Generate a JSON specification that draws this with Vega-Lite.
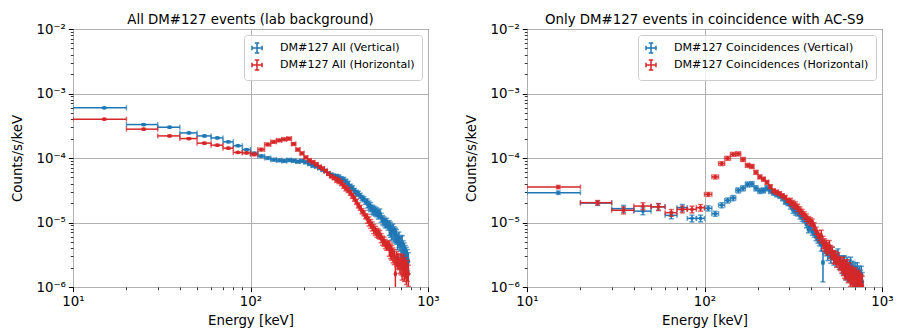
{
"$schema": "https://vega.github.io/schema/vega-lite/v6.json",
"padding": {"left": 10, "top": 12, "right": 3, "bottom": 2},
"background": "white",
"config": {
  "font": "DejaVu Sans",
  "view": {"stroke": "#000", "strokeWidth": 1},
  "axis": {"labelFont": "DejaVu Sans", "labelFontSize": 13.33, "labelColor": "#000", "titleFont": "DejaVu Sans", "titleFontSize": 13.33, "titleFontWeight": "normal", "titleColor": "#000", "tickColor": "#000", "domain": false, "gridColor": "#b0b0b0", "gridWidth": 1, "labelPadding": 3, "labelOverlap": false, "labelFlush": false},
  "title": {"font": "DejaVu Sans", "fontSize": 13.33, "fontWeight": "normal", "color": "#000", "anchor": "middle", "offset": -4},
  "legend": {"orient": "top-right", "offset": 6, "padding": 7, "fillColor": "rgba(255,255,255,0.8)", "strokeColor": "#cccccc", "cornerRadius": 3, "labelFont": "DejaVu Sans", "labelFontSize": 11.1, "labelColor": "#000", "labelLimit": 400, "rowPadding": 1, "labelOffset": 17, "symbolSize": 100, "symbolStrokeWidth": 1.5, "symbolType": "M-1,0L1,0M0,-1L0,1M-1,-0.45L-1,0.45M1,-0.45L1,0.45M-0.45,-1L0.45,-1M-0.45,1L0.45,1"}
},
"datasets": {"d": [
{"p":"A","s":"V","x":15,"a":10,"b":20,"y":6.0e-4,"e":1.5e-5},
{"p":"A","s":"V","x":25,"a":20,"b":30,"y":3.3e-4,"e":1.0e-5},
{"p":"A","s":"V","x":35,"a":30,"b":40,"y":3.0e-4,"e":9.0e-6},
{"p":"A","s":"V","x":45,"a":40,"b":50,"y":2.45e-4,"e":7.4e-6},
{"p":"A","s":"V","x":55,"a":50,"b":60,"y":2.2e-4,"e":6.6e-6},
{"p":"A","s":"V","x":65,"a":60,"b":70,"y":2.05e-4,"e":6.2e-6},
{"p":"A","s":"V","x":75,"a":70,"b":80,"y":1.78e-4,"e":5.3e-6},
{"p":"A","s":"V","x":85,"a":80,"b":90,"y":1.55e-4,"e":4.7e-6},
{"p":"A","s":"V","x":95,"a":90,"b":100,"y":1.35e-4,"e":4.1e-6},
{"p":"A","s":"V","x":105,"a":100,"b":110,"y":1.18e-4,"e":5.9e-6},
{"p":"A","s":"V","x":115,"a":110,"b":120,"y":1.07e-4,"e":5.4e-6},
{"p":"A","s":"V","x":125,"a":120,"b":130,"y":1.0e-4,"e":5.0e-6},
{"p":"A","s":"V","x":135,"a":130,"b":140,"y":9.4e-5,"e":4.7e-6},
{"p":"A","s":"V","x":145,"a":140,"b":150,"y":9.2e-5,"e":4.6e-6},
{"p":"A","s":"V","x":155,"a":150,"b":160,"y":9.0e-5,"e":4.5e-6},
{"p":"A","s":"V","x":165,"a":160,"b":170,"y":9.3e-5,"e":4.7e-6},
{"p":"A","s":"V","x":175,"a":170,"b":180,"y":9.1e-5,"e":4.6e-6},
{"p":"A","s":"V","x":185,"a":180,"b":190,"y":8.8e-5,"e":4.4e-6},
{"p":"A","s":"V","x":195,"a":190,"b":200,"y":9.0e-5,"e":4.5e-6},
{"p":"A","s":"V","x":205,"a":200,"b":210,"y":8.6e-5,"e":4.3e-6},
{"p":"A","s":"V","x":215,"a":210,"b":220,"y":8.1e-5,"e":4.1e-6},
{"p":"A","s":"V","x":225,"a":220,"b":230,"y":7.6e-5,"e":3.8e-6},
{"p":"A","s":"V","x":235,"a":230,"b":240,"y":7.4e-5,"e":3.7e-6},
{"p":"A","s":"V","x":245,"a":240,"b":250,"y":7.0e-5,"e":3.5e-6},
{"p":"A","s":"V","x":255,"a":250,"b":260,"y":6.6e-5,"e":3.3e-6},
{"p":"A","s":"V","x":265,"a":260,"b":270,"y":6.3e-5,"e":3.2e-6},
{"p":"A","s":"V","x":275,"a":270,"b":280,"y":5.8e-5,"e":2.9e-6},
{"p":"A","s":"V","x":285,"a":280,"b":290,"y":5.5e-5,"e":2.8e-6},
{"p":"A","s":"V","x":295,"a":290,"b":300,"y":5.3e-5,"e":2.7e-6},
{"p":"A","s":"V","x":305,"a":300,"b":310,"y":5.1e-5,"e":4.6e-6},
{"p":"A","s":"V","x":315,"a":310,"b":320,"y":5.0e-5,"e":4.5e-6},
{"p":"A","s":"V","x":325,"a":320,"b":330,"y":4.7e-5,"e":4.2e-6},
{"p":"A","s":"V","x":335,"a":330,"b":340,"y":4.6e-5,"e":4.1e-6},
{"p":"A","s":"V","x":345,"a":340,"b":350,"y":4.3e-5,"e":3.9e-6},
{"p":"A","s":"V","x":355,"a":350,"b":360,"y":4.0e-5,"e":3.6e-6},
{"p":"A","s":"V","x":365,"a":360,"b":370,"y":3.6e-5,"e":3.2e-6},
{"p":"A","s":"V","x":375,"a":370,"b":380,"y":3.4e-5,"e":3.1e-6},
{"p":"A","s":"V","x":385,"a":380,"b":390,"y":3.1e-5,"e":2.8e-6},
{"p":"A","s":"V","x":395,"a":390,"b":400,"y":2.9e-5,"e":2.6e-6},
{"p":"A","s":"V","x":405,"a":400,"b":410,"y":2.8e-5,"e":2.5e-6},
{"p":"A","s":"V","x":415,"a":410,"b":420,"y":2.6e-5,"e":2.3e-6},
{"p":"A","s":"V","x":425,"a":420,"b":430,"y":2.4e-5,"e":2.2e-6},
{"p":"A","s":"V","x":435,"a":430,"b":440,"y":2.3e-5,"e":2.1e-6},
{"p":"A","s":"V","x":445,"a":440,"b":450,"y":2.1e-5,"e":1.9e-6},
{"p":"A","s":"V","x":455,"a":450,"b":460,"y":2.0e-5,"e":3.2e-6},
{"p":"A","s":"V","x":465,"a":460,"b":470,"y":1.85e-5,"e":3.0e-6},
{"p":"A","s":"V","x":475,"a":470,"b":480,"y":1.75e-5,"e":2.8e-6},
{"p":"A","s":"V","x":485,"a":480,"b":490,"y":1.6e-5,"e":2.6e-6},
{"p":"A","s":"V","x":495,"a":490,"b":500,"y":1.55e-5,"e":2.5e-6},
{"p":"A","s":"V","x":505,"a":500,"b":510,"y":1.5e-5,"e":2.4e-6},
{"p":"A","s":"V","x":515,"a":510,"b":520,"y":1.45e-5,"e":2.3e-6},
{"p":"A","s":"V","x":525,"a":520,"b":530,"y":1.35e-5,"e":2.2e-6},
{"p":"A","s":"V","x":535,"a":530,"b":540,"y":1.4e-5,"e":2.2e-6},
{"p":"A","s":"V","x":545,"a":540,"b":550,"y":1.2e-5,"e":1.9e-6},
{"p":"A","s":"V","x":555,"a":550,"b":560,"y":1.1e-5,"e":1.8e-6},
{"p":"A","s":"V","x":565,"a":560,"b":570,"y":1.05e-5,"e":1.7e-6},
{"p":"A","s":"V","x":575,"a":570,"b":580,"y":9.8e-6,"e":1.6e-6},
{"p":"A","s":"V","x":585,"a":580,"b":590,"y":1.0e-5,"e":1.6e-6},
{"p":"A","s":"V","x":595,"a":590,"b":600,"y":9.0e-6,"e":1.4e-6},
{"p":"A","s":"V","x":605,"a":600,"b":610,"y":8.5e-6,"e":2.2e-6},
{"p":"A","s":"V","x":615,"a":610,"b":620,"y":8.0e-6,"e":2.1e-6},
{"p":"A","s":"V","x":625,"a":620,"b":630,"y":7.2e-6,"e":1.9e-6},
{"p":"A","s":"V","x":635,"a":630,"b":640,"y":7.5e-6,"e":2.0e-6},
{"p":"A","s":"V","x":645,"a":640,"b":650,"y":6.8e-6,"e":1.8e-6},
{"p":"A","s":"V","x":655,"a":650,"b":660,"y":6.5e-6,"e":1.7e-6},
{"p":"A","s":"V","x":665,"a":660,"b":670,"y":6.2e-6,"e":1.6e-6},
{"p":"A","s":"V","x":675,"a":670,"b":680,"y":5.2e-6,"e":1.4e-6},
{"p":"A","s":"V","x":685,"a":680,"b":690,"y":5.6e-6,"e":1.5e-6},
{"p":"A","s":"V","x":695,"a":690,"b":700,"y":4.8e-6,"e":1.2e-6},
{"p":"A","s":"V","x":705,"a":700,"b":710,"y":4.5e-6,"e":1.6e-6},
{"p":"A","s":"V","x":715,"a":710,"b":720,"y":4.6e-6,"e":1.7e-6},
{"p":"A","s":"V","x":725,"a":720,"b":730,"y":3.8e-6,"e":1.4e-6},
{"p":"A","s":"V","x":735,"a":730,"b":740,"y":3.5e-6,"e":1.3e-6},
{"p":"A","s":"V","x":745,"a":740,"b":750,"y":3.2e-6,"e":1.2e-6},
{"p":"A","s":"V","x":755,"a":750,"b":760,"y":3.0e-6,"e":1.1e-6},
{"p":"A","s":"V","x":765,"a":760,"b":770,"y":2.8e-6,"e":1.0e-6},
{"p":"A","s":"V","x":775,"a":770,"b":780,"y":2.5e-6,"e":9.0e-7},
{"p":"A","s":"H","x":15,"a":10,"b":20,"y":4.0e-4,"e":1.0e-5},
{"p":"A","s":"H","x":25,"a":20,"b":30,"y":2.8e-4,"e":8.4e-6},
{"p":"A","s":"H","x":35,"a":30,"b":40,"y":2.2e-4,"e":6.6e-6},
{"p":"A","s":"H","x":45,"a":40,"b":50,"y":2.0e-4,"e":6.0e-6},
{"p":"A","s":"H","x":55,"a":50,"b":60,"y":1.7e-4,"e":5.1e-6},
{"p":"A","s":"H","x":65,"a":60,"b":70,"y":1.58e-4,"e":4.7e-6},
{"p":"A","s":"H","x":75,"a":70,"b":80,"y":1.42e-4,"e":4.3e-6},
{"p":"A","s":"H","x":85,"a":80,"b":90,"y":1.22e-4,"e":3.7e-6},
{"p":"A","s":"H","x":95,"a":90,"b":100,"y":1.2e-4,"e":3.6e-6},
{"p":"A","s":"H","x":105,"a":100,"b":110,"y":1.14e-4,"e":5.7e-6},
{"p":"A","s":"H","x":115,"a":110,"b":120,"y":1.35e-4,"e":6.8e-6},
{"p":"A","s":"H","x":125,"a":120,"b":130,"y":1.62e-4,"e":8.1e-6},
{"p":"A","s":"H","x":135,"a":130,"b":140,"y":1.78e-4,"e":8.9e-6},
{"p":"A","s":"H","x":145,"a":140,"b":150,"y":1.88e-4,"e":9.4e-6},
{"p":"A","s":"H","x":155,"a":150,"b":160,"y":1.95e-4,"e":9.8e-6},
{"p":"A","s":"H","x":165,"a":160,"b":170,"y":2.0e-4,"e":1.0e-5},
{"p":"A","s":"H","x":175,"a":170,"b":180,"y":1.65e-4,"e":8.3e-6},
{"p":"A","s":"H","x":185,"a":180,"b":190,"y":1.35e-4,"e":6.8e-6},
{"p":"A","s":"H","x":195,"a":190,"b":200,"y":1.18e-4,"e":5.9e-6},
{"p":"A","s":"H","x":205,"a":200,"b":210,"y":1.02e-4,"e":5.1e-6},
{"p":"A","s":"H","x":215,"a":210,"b":220,"y":9.2e-5,"e":4.6e-6},
{"p":"A","s":"H","x":225,"a":220,"b":230,"y":8.6e-5,"e":4.3e-6},
{"p":"A","s":"H","x":235,"a":230,"b":240,"y":8.0e-5,"e":4.0e-6},
{"p":"A","s":"H","x":245,"a":240,"b":250,"y":7.3e-5,"e":3.7e-6},
{"p":"A","s":"H","x":255,"a":250,"b":260,"y":6.9e-5,"e":3.5e-6},
{"p":"A","s":"H","x":265,"a":260,"b":270,"y":6.3e-5,"e":3.2e-6},
{"p":"A","s":"H","x":275,"a":270,"b":280,"y":5.7e-5,"e":2.9e-6},
{"p":"A","s":"H","x":285,"a":280,"b":290,"y":5.2e-5,"e":2.6e-6},
{"p":"A","s":"H","x":295,"a":290,"b":300,"y":4.9e-5,"e":2.5e-6},
{"p":"A","s":"H","x":305,"a":300,"b":310,"y":4.6e-5,"e":4.1e-6},
{"p":"A","s":"H","x":315,"a":310,"b":320,"y":4.4e-5,"e":3.9e-6},
{"p":"A","s":"H","x":325,"a":320,"b":330,"y":4.1e-5,"e":3.7e-6},
{"p":"A","s":"H","x":335,"a":330,"b":340,"y":3.7e-5,"e":3.3e-6},
{"p":"A","s":"H","x":345,"a":340,"b":350,"y":3.4e-5,"e":3.1e-6},
{"p":"A","s":"H","x":355,"a":350,"b":360,"y":3.2e-5,"e":2.9e-6},
{"p":"A","s":"H","x":365,"a":360,"b":370,"y":2.9e-5,"e":2.6e-6},
{"p":"A","s":"H","x":375,"a":370,"b":380,"y":2.6e-5,"e":2.3e-6},
{"p":"A","s":"H","x":385,"a":380,"b":390,"y":2.35e-5,"e":2.1e-6},
{"p":"A","s":"H","x":395,"a":390,"b":400,"y":2.1e-5,"e":1.9e-6},
{"p":"A","s":"H","x":405,"a":400,"b":410,"y":1.85e-5,"e":1.7e-6},
{"p":"A","s":"H","x":415,"a":410,"b":420,"y":1.7e-5,"e":1.5e-6},
{"p":"A","s":"H","x":425,"a":420,"b":430,"y":1.5e-5,"e":1.4e-6},
{"p":"A","s":"H","x":435,"a":430,"b":440,"y":1.4e-5,"e":1.3e-6},
{"p":"A","s":"H","x":445,"a":440,"b":450,"y":1.25e-5,"e":1.1e-6},
{"p":"A","s":"H","x":455,"a":450,"b":460,"y":1.15e-5,"e":1.8e-6},
{"p":"A","s":"H","x":465,"a":460,"b":470,"y":1.05e-5,"e":1.7e-6},
{"p":"A","s":"H","x":475,"a":470,"b":480,"y":9.6e-6,"e":1.5e-6},
{"p":"A","s":"H","x":485,"a":480,"b":490,"y":8.8e-6,"e":1.4e-6},
{"p":"A","s":"H","x":495,"a":490,"b":500,"y":8.0e-6,"e":1.3e-6},
{"p":"A","s":"H","x":505,"a":500,"b":510,"y":7.5e-6,"e":1.2e-6},
{"p":"A","s":"H","x":515,"a":510,"b":520,"y":7.0e-6,"e":1.1e-6},
{"p":"A","s":"H","x":525,"a":520,"b":530,"y":6.8e-6,"e":1.1e-6},
{"p":"A","s":"H","x":535,"a":530,"b":540,"y":6.5e-6,"e":1.0e-6},
{"p":"A","s":"H","x":545,"a":540,"b":550,"y":5.8e-6,"e":9.3e-7},
{"p":"A","s":"H","x":555,"a":550,"b":560,"y":5.3e-6,"e":8.5e-7},
{"p":"A","s":"H","x":565,"a":560,"b":570,"y":5.1e-6,"e":8.2e-7},
{"p":"A","s":"H","x":575,"a":570,"b":580,"y":4.7e-6,"e":7.5e-7},
{"p":"A","s":"H","x":585,"a":580,"b":590,"y":4.4e-6,"e":7.0e-7},
{"p":"A","s":"H","x":595,"a":590,"b":600,"y":4.5e-6,"e":7.2e-7},
{"p":"A","s":"H","x":605,"a":600,"b":610,"y":4.0e-6,"e":1.0e-6},
{"p":"A","s":"H","x":615,"a":610,"b":620,"y":3.7e-6,"e":9.6e-7},
{"p":"A","s":"H","x":625,"a":620,"b":630,"y":3.5e-6,"e":9.1e-7},
{"p":"A","s":"H","x":635,"a":630,"b":640,"y":3.2e-6,"e":8.3e-7},
{"p":"A","s":"H","x":645,"a":640,"b":650,"y":3.0e-6,"e":7.8e-7},
{"p":"A","s":"H","x":655,"a":650,"b":660,"y":1.6e-6,"e":9.6e-7},
{"p":"A","s":"H","x":665,"a":660,"b":670,"y":2.8e-6,"e":7.3e-7},
{"p":"A","s":"H","x":675,"a":670,"b":680,"y":2.6e-6,"e":6.8e-7},
{"p":"A","s":"H","x":685,"a":680,"b":690,"y":2.5e-6,"e":6.5e-7},
{"p":"A","s":"H","x":695,"a":690,"b":700,"y":2.2e-6,"e":5.7e-7},
{"p":"A","s":"H","x":705,"a":700,"b":710,"y":2.4e-6,"e":8.6e-7},
{"p":"A","s":"H","x":715,"a":710,"b":720,"y":2.0e-6,"e":7.2e-7},
{"p":"A","s":"H","x":725,"a":720,"b":730,"y":2.3e-6,"e":8.3e-7},
{"p":"A","s":"H","x":735,"a":730,"b":740,"y":1.9e-6,"e":6.8e-7},
{"p":"A","s":"H","x":745,"a":740,"b":750,"y":2.1e-6,"e":7.6e-7},
{"p":"A","s":"H","x":755,"a":750,"b":760,"y":1.7e-6,"e":6.1e-7},
{"p":"A","s":"H","x":765,"a":760,"b":770,"y":1.9e-6,"e":6.8e-7},
{"p":"A","s":"H","x":775,"a":770,"b":780,"y":1.6e-6,"e":5.8e-7},
{"p":"B","s":"V","x":15,"a":10,"b":20,"y":2.9e-5,"e":1.7e-6},
{"p":"B","s":"V","x":25,"a":20,"b":30,"y":2.0e-5,"e":1.6e-6},
{"p":"B","s":"V","x":35,"a":30,"b":40,"y":1.64e-5,"e":2.0e-6},
{"p":"B","s":"V","x":45,"a":40,"b":50,"y":1.5e-5,"e":1.8e-6},
{"p":"B","s":"V","x":55,"a":50,"b":60,"y":1.75e-5,"e":2.1e-6},
{"p":"B","s":"V","x":65,"a":60,"b":70,"y":1.29e-5,"e":1.5e-6},
{"p":"B","s":"V","x":75,"a":70,"b":80,"y":1.7e-5,"e":2.0e-6},
{"p":"B","s":"V","x":85,"a":80,"b":90,"y":1.16e-5,"e":1.4e-6},
{"p":"B","s":"V","x":95,"a":90,"b":100,"y":1.16e-5,"e":1.4e-6},
{"p":"B","s":"V","x":105,"a":100,"b":110,"y":1.66e-5,"e":1.5e-6},
{"p":"B","s":"V","x":115,"a":110,"b":120,"y":1.37e-5,"e":1.2e-6},
{"p":"B","s":"V","x":125,"a":120,"b":130,"y":1.86e-5,"e":1.7e-6},
{"p":"B","s":"V","x":135,"a":130,"b":140,"y":2.2e-5,"e":2.0e-6},
{"p":"B","s":"V","x":145,"a":140,"b":150,"y":2.4e-5,"e":2.2e-6},
{"p":"B","s":"V","x":155,"a":150,"b":160,"y":3.15e-5,"e":2.8e-6},
{"p":"B","s":"V","x":165,"a":160,"b":170,"y":3.4e-5,"e":3.1e-6},
{"p":"B","s":"V","x":175,"a":170,"b":180,"y":3.9e-5,"e":3.5e-6},
{"p":"B","s":"V","x":185,"a":180,"b":190,"y":3.95e-5,"e":3.6e-6},
{"p":"B","s":"V","x":195,"a":190,"b":200,"y":3.4e-5,"e":3.1e-6},
{"p":"B","s":"V","x":205,"a":200,"b":210,"y":3.1e-5,"e":2.8e-6},
{"p":"B","s":"V","x":215,"a":210,"b":220,"y":3.15e-5,"e":2.8e-6},
{"p":"B","s":"V","x":225,"a":220,"b":230,"y":3.4e-5,"e":3.1e-6},
{"p":"B","s":"V","x":235,"a":230,"b":240,"y":3.1e-5,"e":2.8e-6},
{"p":"B","s":"V","x":245,"a":240,"b":250,"y":2.9e-5,"e":2.6e-6},
{"p":"B","s":"V","x":255,"a":250,"b":260,"y":2.75e-5,"e":2.5e-6},
{"p":"B","s":"V","x":265,"a":260,"b":270,"y":2.6e-5,"e":2.3e-6},
{"p":"B","s":"V","x":275,"a":270,"b":280,"y":2.4e-5,"e":2.2e-6},
{"p":"B","s":"V","x":285,"a":280,"b":290,"y":2.1e-5,"e":1.9e-6},
{"p":"B","s":"V","x":295,"a":290,"b":300,"y":2.0e-5,"e":1.8e-6},
{"p":"B","s":"V","x":305,"a":300,"b":310,"y":1.85e-5,"e":2.4e-6},
{"p":"B","s":"V","x":315,"a":310,"b":320,"y":1.6e-5,"e":2.1e-6},
{"p":"B","s":"V","x":325,"a":320,"b":330,"y":1.5e-5,"e":2.0e-6},
{"p":"B","s":"V","x":335,"a":330,"b":340,"y":1.45e-5,"e":1.9e-6},
{"p":"B","s":"V","x":345,"a":340,"b":350,"y":1.3e-5,"e":1.7e-6},
{"p":"B","s":"V","x":355,"a":350,"b":360,"y":1.2e-5,"e":1.6e-6},
{"p":"B","s":"V","x":365,"a":360,"b":370,"y":1.15e-5,"e":1.5e-6},
{"p":"B","s":"V","x":375,"a":370,"b":380,"y":9.5e-6,"e":1.2e-6},
{"p":"B","s":"V","x":385,"a":380,"b":390,"y":7.9e-6,"e":1.0e-6},
{"p":"B","s":"V","x":395,"a":390,"b":400,"y":8.5e-6,"e":1.1e-6},
{"p":"B","s":"V","x":405,"a":400,"b":410,"y":7.3e-6,"e":9.5e-7},
{"p":"B","s":"V","x":415,"a":410,"b":420,"y":6.8e-6,"e":8.8e-7},
{"p":"B","s":"V","x":425,"a":420,"b":430,"y":6.0e-6,"e":7.8e-7},
{"p":"B","s":"V","x":435,"a":430,"b":440,"y":5.5e-6,"e":7.2e-7},
{"p":"B","s":"V","x":445,"a":440,"b":450,"y":5.0e-6,"e":6.5e-7},
{"p":"B","s":"V","x":455,"a":450,"b":460,"y":4.6e-6,"e":1.0e-6},
{"p":"B","s":"V","x":465,"a":460,"b":470,"y":2.4e-6,"e":1.2e-6},
{"p":"B","s":"V","x":475,"a":470,"b":480,"y":4.2e-6,"e":9.2e-7},
{"p":"B","s":"V","x":485,"a":480,"b":490,"y":3.9e-6,"e":8.6e-7},
{"p":"B","s":"V","x":495,"a":490,"b":500,"y":3.3e-6,"e":7.3e-7},
{"p":"B","s":"V","x":505,"a":500,"b":510,"y":3.6e-6,"e":7.9e-7},
{"p":"B","s":"V","x":515,"a":510,"b":520,"y":3.0e-6,"e":6.6e-7},
{"p":"B","s":"V","x":525,"a":520,"b":530,"y":3.4e-6,"e":7.5e-7},
{"p":"B","s":"V","x":535,"a":530,"b":540,"y":2.8e-6,"e":6.2e-7},
{"p":"B","s":"V","x":545,"a":540,"b":550,"y":3.0e-6,"e":6.6e-7},
{"p":"B","s":"V","x":555,"a":550,"b":560,"y":2.6e-6,"e":5.7e-7},
{"p":"B","s":"V","x":565,"a":560,"b":570,"y":3.2e-6,"e":7.0e-7},
{"p":"B","s":"V","x":575,"a":570,"b":580,"y":2.4e-6,"e":5.3e-7},
{"p":"B","s":"V","x":585,"a":580,"b":590,"y":2.5e-6,"e":5.5e-7},
{"p":"B","s":"V","x":595,"a":590,"b":600,"y":2.1e-6,"e":4.6e-7},
{"p":"B","s":"V","x":605,"a":600,"b":610,"y":2.3e-6,"e":7.4e-7},
{"p":"B","s":"V","x":615,"a":610,"b":620,"y":2.3e-6,"e":7.4e-7},
{"p":"B","s":"V","x":625,"a":620,"b":630,"y":1.9e-6,"e":6.1e-7},
{"p":"B","s":"V","x":635,"a":630,"b":640,"y":2.2e-6,"e":7.0e-7},
{"p":"B","s":"V","x":645,"a":640,"b":650,"y":1.8e-6,"e":5.8e-7},
{"p":"B","s":"V","x":655,"a":650,"b":660,"y":2.0e-6,"e":6.4e-7},
{"p":"B","s":"V","x":665,"a":660,"b":670,"y":2.2e-6,"e":7.0e-7},
{"p":"B","s":"V","x":675,"a":670,"b":680,"y":1.7e-6,"e":5.4e-7},
{"p":"B","s":"V","x":685,"a":680,"b":690,"y":1.9e-6,"e":6.1e-7},
{"p":"B","s":"V","x":695,"a":690,"b":700,"y":1.6e-6,"e":5.1e-7},
{"p":"B","s":"V","x":705,"a":700,"b":710,"y":1.7e-6,"e":6.8e-7},
{"p":"B","s":"V","x":715,"a":710,"b":720,"y":1.5e-6,"e":6.0e-7},
{"p":"B","s":"V","x":725,"a":720,"b":730,"y":1.7e-6,"e":6.8e-7},
{"p":"B","s":"V","x":735,"a":730,"b":740,"y":1.4e-6,"e":5.6e-7},
{"p":"B","s":"V","x":745,"a":740,"b":750,"y":1.5e-6,"e":6.0e-7},
{"p":"B","s":"V","x":755,"a":750,"b":760,"y":1.3e-6,"e":5.2e-7},
{"p":"B","s":"V","x":765,"a":760,"b":770,"y":1.5e-6,"e":6.0e-7},
{"p":"B","s":"V","x":775,"a":770,"b":780,"y":1.2e-6,"e":4.8e-7},
{"p":"B","s":"H","x":15,"a":10,"b":20,"y":3.55e-5,"e":2.1e-6},
{"p":"B","s":"H","x":25,"a":20,"b":30,"y":2.03e-5,"e":1.6e-6},
{"p":"B","s":"H","x":35,"a":30,"b":40,"y":1.55e-5,"e":1.9e-6},
{"p":"B","s":"H","x":45,"a":40,"b":50,"y":1.8e-5,"e":2.2e-6},
{"p":"B","s":"H","x":55,"a":50,"b":60,"y":1.75e-5,"e":2.1e-6},
{"p":"B","s":"H","x":65,"a":60,"b":70,"y":1.42e-5,"e":1.7e-6},
{"p":"B","s":"H","x":75,"a":70,"b":80,"y":1.6e-5,"e":1.9e-6},
{"p":"B","s":"H","x":85,"a":80,"b":90,"y":1.6e-5,"e":1.9e-6},
{"p":"B","s":"H","x":95,"a":90,"b":100,"y":1.7e-5,"e":2.0e-6},
{"p":"B","s":"H","x":105,"a":100,"b":110,"y":2.73e-5,"e":1.9e-6},
{"p":"B","s":"H","x":115,"a":110,"b":120,"y":5.1e-5,"e":3.6e-6},
{"p":"B","s":"H","x":125,"a":120,"b":130,"y":8.2e-5,"e":5.7e-6},
{"p":"B","s":"H","x":135,"a":130,"b":140,"y":9.9e-5,"e":6.9e-6},
{"p":"B","s":"H","x":145,"a":140,"b":150,"y":1.14e-4,"e":8.0e-6},
{"p":"B","s":"H","x":155,"a":150,"b":160,"y":1.16e-4,"e":8.1e-6},
{"p":"B","s":"H","x":165,"a":160,"b":170,"y":9.5e-5,"e":6.7e-6},
{"p":"B","s":"H","x":175,"a":170,"b":180,"y":7.7e-5,"e":5.4e-6},
{"p":"B","s":"H","x":185,"a":180,"b":190,"y":7.4e-5,"e":5.2e-6},
{"p":"B","s":"H","x":195,"a":190,"b":200,"y":6.0e-5,"e":4.2e-6},
{"p":"B","s":"H","x":205,"a":200,"b":210,"y":5.1e-5,"e":3.6e-6},
{"p":"B","s":"H","x":215,"a":210,"b":220,"y":4.7e-5,"e":3.3e-6},
{"p":"B","s":"H","x":225,"a":220,"b":230,"y":4.2e-5,"e":2.9e-6},
{"p":"B","s":"H","x":235,"a":230,"b":240,"y":3.6e-5,"e":2.5e-6},
{"p":"B","s":"H","x":245,"a":240,"b":250,"y":3.1e-5,"e":2.2e-6},
{"p":"B","s":"H","x":255,"a":250,"b":260,"y":2.95e-5,"e":2.1e-6},
{"p":"B","s":"H","x":265,"a":260,"b":270,"y":2.8e-5,"e":2.0e-6},
{"p":"B","s":"H","x":275,"a":270,"b":280,"y":2.6e-5,"e":1.8e-6},
{"p":"B","s":"H","x":285,"a":280,"b":290,"y":2.45e-5,"e":1.7e-6},
{"p":"B","s":"H","x":295,"a":290,"b":300,"y":2.2e-5,"e":1.5e-6},
{"p":"B","s":"H","x":305,"a":300,"b":310,"y":2.1e-5,"e":2.7e-6},
{"p":"B","s":"H","x":315,"a":310,"b":320,"y":1.95e-5,"e":2.5e-6},
{"p":"B","s":"H","x":325,"a":320,"b":330,"y":1.85e-5,"e":2.4e-6},
{"p":"B","s":"H","x":335,"a":330,"b":340,"y":1.7e-5,"e":2.2e-6},
{"p":"B","s":"H","x":345,"a":340,"b":350,"y":1.55e-5,"e":2.0e-6},
{"p":"B","s":"H","x":355,"a":350,"b":360,"y":1.42e-5,"e":1.8e-6},
{"p":"B","s":"H","x":365,"a":360,"b":370,"y":1.3e-5,"e":1.7e-6},
{"p":"B","s":"H","x":375,"a":370,"b":380,"y":1.2e-5,"e":1.6e-6},
{"p":"B","s":"H","x":385,"a":380,"b":390,"y":1.1e-5,"e":1.4e-6},
{"p":"B","s":"H","x":395,"a":390,"b":400,"y":1.05e-5,"e":1.4e-6},
{"p":"B","s":"H","x":405,"a":400,"b":410,"y":1.0e-5,"e":1.3e-6},
{"p":"B","s":"H","x":415,"a":410,"b":420,"y":8.8e-6,"e":1.1e-6},
{"p":"B","s":"H","x":425,"a":420,"b":430,"y":7.5e-6,"e":9.8e-7},
{"p":"B","s":"H","x":435,"a":430,"b":440,"y":6.6e-6,"e":8.6e-7},
{"p":"B","s":"H","x":445,"a":440,"b":450,"y":6.0e-6,"e":7.8e-7},
{"p":"B","s":"H","x":455,"a":450,"b":460,"y":6.2e-6,"e":1.4e-6},
{"p":"B","s":"H","x":465,"a":460,"b":470,"y":5.0e-6,"e":1.1e-6},
{"p":"B","s":"H","x":475,"a":470,"b":480,"y":4.6e-6,"e":1.0e-6},
{"p":"B","s":"H","x":485,"a":480,"b":490,"y":4.3e-6,"e":9.5e-7},
{"p":"B","s":"H","x":495,"a":490,"b":500,"y":4.0e-6,"e":8.8e-7},
{"p":"B","s":"H","x":505,"a":500,"b":510,"y":4.3e-6,"e":9.5e-7},
{"p":"B","s":"H","x":515,"a":510,"b":520,"y":3.6e-6,"e":7.9e-7},
{"p":"B","s":"H","x":525,"a":520,"b":530,"y":3.4e-6,"e":7.5e-7},
{"p":"B","s":"H","x":535,"a":530,"b":540,"y":3.0e-6,"e":6.6e-7},
{"p":"B","s":"H","x":545,"a":540,"b":550,"y":2.9e-6,"e":6.4e-7},
{"p":"B","s":"H","x":555,"a":550,"b":560,"y":2.6e-6,"e":5.7e-7},
{"p":"B","s":"H","x":565,"a":560,"b":570,"y":2.8e-6,"e":6.2e-7},
{"p":"B","s":"H","x":575,"a":570,"b":580,"y":2.4e-6,"e":5.3e-7},
{"p":"B","s":"H","x":585,"a":580,"b":590,"y":2.3e-6,"e":5.1e-7},
{"p":"B","s":"H","x":595,"a":590,"b":600,"y":2.1e-6,"e":4.6e-7},
{"p":"B","s":"H","x":605,"a":600,"b":610,"y":2.2e-6,"e":7.0e-7},
{"p":"B","s":"H","x":615,"a":610,"b":620,"y":2.0e-6,"e":6.4e-7},
{"p":"B","s":"H","x":625,"a":620,"b":630,"y":1.9e-6,"e":6.1e-7},
{"p":"B","s":"H","x":635,"a":630,"b":640,"y":2.0e-6,"e":6.4e-7},
{"p":"B","s":"H","x":645,"a":640,"b":650,"y":1.7e-6,"e":5.4e-7},
{"p":"B","s":"H","x":655,"a":650,"b":660,"y":1.8e-6,"e":5.8e-7},
{"p":"B","s":"H","x":665,"a":660,"b":670,"y":1.5e-6,"e":4.8e-7},
{"p":"B","s":"H","x":675,"a":670,"b":680,"y":1.6e-6,"e":5.1e-7},
{"p":"B","s":"H","x":685,"a":680,"b":690,"y":1.4e-6,"e":4.5e-7},
{"p":"B","s":"H","x":695,"a":690,"b":700,"y":1.5e-6,"e":4.8e-7},
{"p":"B","s":"H","x":705,"a":700,"b":710,"y":1.4e-6,"e":5.6e-7},
{"p":"B","s":"H","x":715,"a":710,"b":720,"y":1.3e-6,"e":5.2e-7},
{"p":"B","s":"H","x":725,"a":720,"b":730,"y":1.25e-6,"e":5.0e-7},
{"p":"B","s":"H","x":735,"a":730,"b":740,"y":1.3e-6,"e":5.2e-7},
{"p":"B","s":"H","x":745,"a":740,"b":750,"y":1.2e-6,"e":4.8e-7},
{"p":"B","s":"H","x":755,"a":750,"b":760,"y":1.15e-6,"e":4.6e-7},
{"p":"B","s":"H","x":765,"a":760,"b":770,"y":1.1e-6,"e":4.4e-7},
{"p":"B","s":"H","x":775,"a":770,"b":780,"y":1.05e-6,"e":4.2e-7}
]},
"spacing": 99,
"bounds": "flush",
"resolve": {"scale": {"color": "independent"}, "legend": {"color": "independent"}},
"hconcat": [
{
  "title": {"text": "All DM#127 events (lab background)"},
  "width": 355, "height": 258,
  "data": {"name": "d"},
  "transform": [{"filter": "datum.p=='A'"}],
  "encoding": {
    "y": {"field": "y", "type": "quantitative", "title": "Counts/s/keV", "scale": {"type": "log", "domain": [0.000001, 0.01], "nice": false},
      "axis": {"title": "Counts/s/keV", "titlePadding": 11, "grid": true,
        "values": [0.000001,0.000002,0.000003,0.000004,0.000005,0.000006,0.000007,0.000008,0.000009,0.00001,0.00002,0.00003,0.00004,0.00005,0.00006,0.00007,0.00008,0.00009,0.0001,0.0002,0.0003,0.0004,0.0005,0.0006,0.0007,0.0008,0.0009,0.001,0.002,0.003,0.004,0.005,0.006,0.007,0.008,0.009,0.01],
        "labelExpr": "datum.value==0.01?'10⁻²':datum.value==0.001?'10⁻³':datum.value==0.0001?'10⁻⁴':datum.value==0.00001?'10⁻⁵':datum.value==0.000001?'10⁻⁶':''",
        "tickSize": {"condition": {"test": "indexof([0.01,0.001,0.0001,0.00001,0.000001],datum.value)>=0", "value": 4.7}, "value": 2.7},
        "tickWidth": {"condition": {"test": "indexof([0.01,0.001,0.0001,0.00001,0.000001],datum.value)>=0", "value": 1}, "value": 0.8},
        "gridOpacity": {"condition": {"test": "indexof([0.01,0.001,0.0001,0.00001,0.000001],datum.value)>=0", "value": 1}, "value": 0}}},
    "color": {"field": "s", "type": "nominal", "scale": {"domain": ["V", "H"], "range": ["#1f77b4", "#d62728"]},
      "legend": {"title": null, "labelExpr": "datum.value=='V'?'DM#127 All (Vertical)':'DM#127 All (Horizontal)'",
        "encode": {"symbols": {"update": {"stroke": {"signal": "datum.value=='V'?'#1f77b4':'#d62728'"}, "fill": {"value": "transparent"}, "strokeWidth": {"value": 1.5}, "opacity": {"value": 1}}}}}}
  },
  "layer": [
    {"transform": [{"filter": "datum.s=='V'"}], "mark": {"type": "errorbar", "ticks": true, "size": 5, "thickness": 1.5, "clip": true},
     "encoding": {"x": {"field": "a", "type": "quantitative", "title": "Energy [keV]", "scale": {"type": "log", "domain": [10, 1000], "nice": false},
        "axis": {"title": "Energy [keV]", "titlePadding": 5, "grid": true, "values": [10,20,30,40,50,60,70,80,90,100,200,300,400,500,600,700,800,900,1000],
          "labelExpr": "datum.value==10?'10¹':datum.value==100?'10²':datum.value==1000?'10³':''",
          "tickSize": {"condition": {"test": "datum.value==10||datum.value==100||datum.value==1000", "value": 4.7}, "value": 2.7},
          "tickWidth": {"condition": {"test": "datum.value==10||datum.value==100||datum.value==1000", "value": 1}, "value": 0.8},
          "gridOpacity": {"condition": {"test": "datum.value==10||datum.value==100||datum.value==1000", "value": 1}, "value": 0}}},
      "x2": {"field": "b"}}},
    {"transform": [{"filter": "datum.s=='V'"}], "mark": {"type": "errorbar", "ticks": true, "size": 5, "thickness": 1.5, "clip": true},
     "encoding": {"x": {"field": "x", "type": "quantitative", "title": "Energy [keV]", "scale": {"type": "log", "domain": [10, 1000], "nice": false}}, "yError": {"field": "e"}}},
    {"transform": [{"filter": "datum.s=='V'"}], "mark": {"type": "point", "filled": true, "size": 14, "opacity": 1, "clip": true},
     "encoding": {"x": {"field": "x", "type": "quantitative", "title": "Energy [keV]", "scale": {"type": "log", "domain": [10, 1000], "nice": false}}}},
    {"transform": [{"filter": "datum.s=='H'"}], "mark": {"type": "errorbar", "ticks": true, "size": 5, "thickness": 1.5, "clip": true},
     "encoding": {"x": {"field": "a", "type": "quantitative", "title": "Energy [keV]", "scale": {"type": "log", "domain": [10, 1000], "nice": false}}, "x2": {"field": "b"}}},
    {"transform": [{"filter": "datum.s=='H'"}], "mark": {"type": "errorbar", "ticks": true, "size": 5, "thickness": 1.5, "clip": true},
     "encoding": {"x": {"field": "x", "type": "quantitative", "title": "Energy [keV]", "scale": {"type": "log", "domain": [10, 1000], "nice": false}}, "yError": {"field": "e"}}},
    {"transform": [{"filter": "datum.s=='H'"}], "mark": {"type": "point", "filled": true, "size": 14, "opacity": 1, "clip": true},
     "encoding": {"x": {"field": "x", "type": "quantitative", "title": "Energy [keV]", "scale": {"type": "log", "domain": [10, 1000], "nice": false}}}}
  ]
},
{
  "title": {"text": "Only DM#127 events in coincidence with AC-S9"},
  "width": 355, "height": 258,
  "data": {"name": "d"},
  "transform": [{"filter": "datum.p=='B'"}],
  "encoding": {
    "y": {"field": "y", "type": "quantitative", "title": "Counts/s/keV", "scale": {"type": "log", "domain": [0.000001, 0.01], "nice": false},
      "axis": {"title": "Counts/s/keV", "titlePadding": 11, "grid": true,
        "values": [0.000001,0.000002,0.000003,0.000004,0.000005,0.000006,0.000007,0.000008,0.000009,0.00001,0.00002,0.00003,0.00004,0.00005,0.00006,0.00007,0.00008,0.00009,0.0001,0.0002,0.0003,0.0004,0.0005,0.0006,0.0007,0.0008,0.0009,0.001,0.002,0.003,0.004,0.005,0.006,0.007,0.008,0.009,0.01],
        "labelExpr": "datum.value==0.01?'10⁻²':datum.value==0.001?'10⁻³':datum.value==0.0001?'10⁻⁴':datum.value==0.00001?'10⁻⁵':datum.value==0.000001?'10⁻⁶':''",
        "tickSize": {"condition": {"test": "indexof([0.01,0.001,0.0001,0.00001,0.000001],datum.value)>=0", "value": 4.7}, "value": 2.7},
        "tickWidth": {"condition": {"test": "indexof([0.01,0.001,0.0001,0.00001,0.000001],datum.value)>=0", "value": 1}, "value": 0.8},
        "gridOpacity": {"condition": {"test": "indexof([0.01,0.001,0.0001,0.00001,0.000001],datum.value)>=0", "value": 1}, "value": 0}}},
    "color": {"field": "s", "type": "nominal", "scale": {"domain": ["V", "H"], "range": ["#1f77b4", "#d62728"]},
      "legend": {"title": null, "labelExpr": "datum.value=='V'?'DM#127 Coincidences (Vertical)':'DM#127 Coincidences (Horizontal)'",
        "encode": {"symbols": {"update": {"stroke": {"signal": "datum.value=='V'?'#1f77b4':'#d62728'"}, "fill": {"value": "transparent"}, "strokeWidth": {"value": 1.5}, "opacity": {"value": 1}}}}}}
  },
  "layer": [
    {"transform": [{"filter": "datum.s=='V'"}], "mark": {"type": "errorbar", "ticks": true, "size": 5, "thickness": 1.5, "clip": true},
     "encoding": {"x": {"field": "a", "type": "quantitative", "title": "Energy [keV]", "scale": {"type": "log", "domain": [10, 1000], "nice": false},
        "axis": {"title": "Energy [keV]", "titlePadding": 5, "grid": true, "values": [10,20,30,40,50,60,70,80,90,100,200,300,400,500,600,700,800,900,1000],
          "labelExpr": "datum.value==10?'10¹':datum.value==100?'10²':datum.value==1000?'10³':''",
          "tickSize": {"condition": {"test": "datum.value==10||datum.value==100||datum.value==1000", "value": 4.7}, "value": 2.7},
          "tickWidth": {"condition": {"test": "datum.value==10||datum.value==100||datum.value==1000", "value": 1}, "value": 0.8},
          "gridOpacity": {"condition": {"test": "datum.value==10||datum.value==100||datum.value==1000", "value": 1}, "value": 0}}},
      "x2": {"field": "b"}}},
    {"transform": [{"filter": "datum.s=='V'"}], "mark": {"type": "errorbar", "ticks": true, "size": 5, "thickness": 1.5, "clip": true},
     "encoding": {"x": {"field": "x", "type": "quantitative", "title": "Energy [keV]", "scale": {"type": "log", "domain": [10, 1000], "nice": false}}, "yError": {"field": "e"}}},
    {"transform": [{"filter": "datum.s=='V'"}], "mark": {"type": "point", "filled": true, "size": 14, "opacity": 1, "clip": true},
     "encoding": {"x": {"field": "x", "type": "quantitative", "title": "Energy [keV]", "scale": {"type": "log", "domain": [10, 1000], "nice": false}}}},
    {"transform": [{"filter": "datum.s=='H'"}], "mark": {"type": "errorbar", "ticks": true, "size": 5, "thickness": 1.5, "clip": true},
     "encoding": {"x": {"field": "a", "type": "quantitative", "title": "Energy [keV]", "scale": {"type": "log", "domain": [10, 1000], "nice": false}}, "x2": {"field": "b"}}},
    {"transform": [{"filter": "datum.s=='H'"}], "mark": {"type": "errorbar", "ticks": true, "size": 5, "thickness": 1.5, "clip": true},
     "encoding": {"x": {"field": "x", "type": "quantitative", "title": "Energy [keV]", "scale": {"type": "log", "domain": [10, 1000], "nice": false}}, "yError": {"field": "e"}}},
    {"transform": [{"filter": "datum.s=='H'"}], "mark": {"type": "point", "filled": true, "size": 14, "opacity": 1, "clip": true},
     "encoding": {"x": {"field": "x", "type": "quantitative", "title": "Energy [keV]", "scale": {"type": "log", "domain": [10, 1000], "nice": false}}}}
  ]
}
]
}
